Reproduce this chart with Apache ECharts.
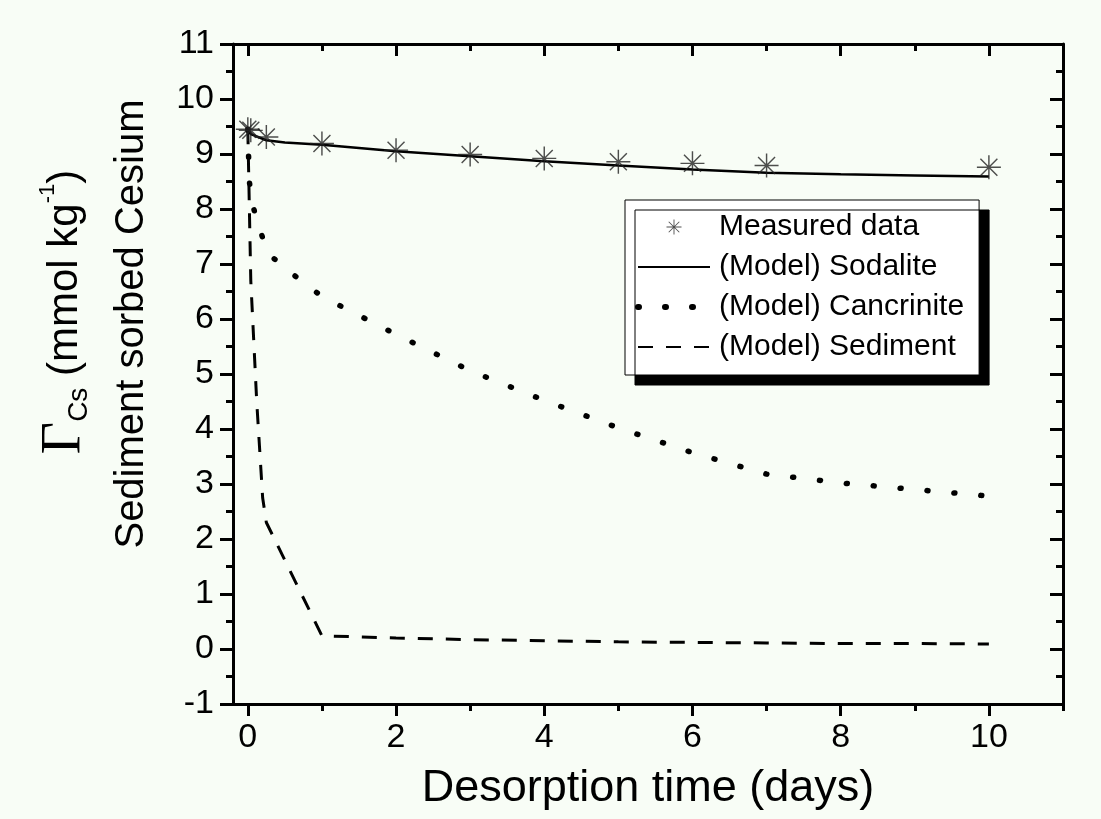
<!DOCTYPE html>
<html>
<head>
<meta charset="utf-8">
<script src="https://cdn.jsdelivr.net/npm/echarts@6/dist/echarts.min.js"></script>
<style>
  html, body { margin: 0; padding: 0; background: #f8fdf6; }
  #chart { width: 1101px; height: 819px; }
</style>
</head>
<body>
<div id="chart"></div>
<script>
// measured points (asterisks)
var measuredDays = [0, 0.04, 0.25, 1, 2, 3, 4, 5, 6, 7, 10];
var measuredValues = [9.45, 9.43, 9.31, 9.19, 9.07, 8.99, 8.92, 8.86, 8.83, 8.79, 8.76];

// model curves
var sodaliteDays = [0, 0.04, 0.25, 0.5, 1, 2, 3, 4, 5, 6, 7, 8, 9, 10];
var sodaliteValues = [9.45, 9.36, 9.25, 9.21, 9.17, 9.05, 8.96, 8.87, 8.79, 8.72, 8.66, 8.63, 8.61, 8.59];

var cancriniteDays = [0, 0.02, 0.07, 0.16, 0.28, 0.6, 1, 2, 3, 4, 5, 6, 7, 8, 9, 10];
var cancriniteValues = [9.45, 8.5, 8.05, 7.63, 7.18, 6.82, 6.41, 5.72, 5.06, 4.52, 4.02, 3.57, 3.18, 3.02, 2.9, 2.78];

var sedimentDays = [0, 0.04, 0.12, 0.2, 0.25, 1, 2, 3, 4, 5, 6, 7, 8, 9, 10];
var sedimentValues = [9.45, 6.7, 4.5, 2.75, 2.3, 0.24, 0.2, 0.17, 0.15, 0.13, 0.12, 0.11, 0.1, 0.1, 0.09];

var xMajorTicks = [0, 2, 4, 6, 8, 10];
var xMinorTicks = [1, 3, 5, 7, 9, 11];

function pairs(xs, ys) {
    return xs.map(function (x, i) { return [x, ys[i]]; });
}

// 8-arm asterisk made of thin bars (all same winding)
var asterisk = 'path://M-0.06,-1 L0.06,-1 L0.06,1 L-0.06,1 Z ' +
    'M-1,-0.06 L1,-0.06 L1,0.06 L-1,0.06 Z ' +
    'M-0.665,-0.749 L0.749,0.665 L0.665,0.749 L-0.749,-0.665 Z ' +
    'M-0.749,0.665 L0.665,-0.749 L0.749,-0.665 L-0.665,0.749 Z';

var sans = '"Liberation Sans", Arial, sans-serif';
var black = '#000';

var chart = echarts.init(document.getElementById('chart'), null, { renderer: 'canvas' });

function xAxisDef(pos, ticks, len, inside, labels) {
    return {
        type: 'value',
        position: pos,
        min: -0.2,
        max: 11,
        axisLine: { show: true, onZero: false, lineStyle: { color: black, width: 3 } },
        axisTick: { show: true, customValues: ticks, length: len, inside: inside, lineStyle: { color: black, width: 3 } },
        axisLabel: labels ? {
            show: true, customValues: ticks, color: black, fontSize: 34, fontFamily: sans, margin: 17
        } : { show: false },
        splitLine: { show: false }
    };
}

var xAxes = [
    xAxisDef('bottom', xMajorTicks, 12, false, true),
    xAxisDef('bottom', xMinorTicks, 7, false, false),
    xAxisDef('top', xMajorTicks, 12, true, false),
    xAxisDef('top', xMinorTicks, 7, true, false)
];
xAxes[0].name = 'Desorption time (days)';
xAxes[0].nameLocation = 'middle';
xAxes[0].nameGap = 62;
xAxes[0].nameTextStyle = { color: black, fontSize: 45, fontFamily: sans };

function yAxisDef(pos, inside, labels) {
    return {
        type: 'value',
        position: pos,
        min: -1,
        max: 11,
        interval: 1,
        axisLine: { show: true, onZero: false, lineStyle: { color: black, width: 3 } },
        axisTick: { show: true, length: 13, inside: inside, lineStyle: { color: black, width: 3 } },
        minorTick: { show: true, splitNumber: 2, length: 7, lineStyle: { color: black, width: 3 } },
        axisLabel: labels ? { show: true, color: black, fontSize: 34, fontFamily: sans, margin: 19 } : { show: false },
        splitLine: { show: false },
        minorSplitLine: { show: false }
    };
}

var yAxes = [yAxisDef('left', false, true), yAxisDef('right', true, false)];
yAxes[0].name = '{g|Γ}{sub|Cs}{t| (mmol kg}{sup|-1}{t|)}\n{t2|Sediment sorbed Cesium}';
yAxes[0].nameLocation = 'middle';
yAxes[0].nameRotate = 90;
yAxes[0].nameGap = 62;
yAxes[0].nameTextStyle = {
    color: black,
    align: 'center',
    padding: [0, 0, 0, 100],
    rich: {
        g: { fontFamily: '"Liberation Serif", serif', fontSize: 56, lineHeight: 56, color: black, padding: [0, 0, 0, 24] },
        sub: { fontFamily: sans, fontSize: 28, lineHeight: 26, verticalAlign: 'bottom', color: black },
        sup: { fontFamily: sans, fontSize: 22, lineHeight: 22, verticalAlign: 'top', color: black },
        t: { fontFamily: sans, fontSize: 42, lineHeight: 56, color: black },
        t2: { fontFamily: sans, fontSize: 40, lineHeight: 78, color: black }
    }
};

var lineLegendStyle = { opacity: 0 };

var option = {
    backgroundColor: '#f8fdf6',
    animation: false,
    grid: { left: 233, right: 38, top: 44, bottom: 115, containLabel: false, outerBoundsMode: 'none' },
    legend: {
        orient: 'vertical',
        left: 625,
        top: 200,
        padding: [11, 15, 12, 10],
        itemWidth: 72,
        itemHeight: 15,
        itemGap: 8,
        selectedMode: false,
        backgroundColor: '#fff',
        borderColor: black,
        borderWidth: 1,
        shadowColor: black,
        shadowBlur: 0,
        shadowOffsetX: 10,
        shadowOffsetY: 10,
        textStyle: { color: black, fontSize: 30, fontFamily: sans, lineHeight: 32, padding: [0, 0, 0, 4] },
        data: [
            { name: 'Measured data' },
            { name: '(Model) Sodalite', itemStyle: lineLegendStyle },
            { name: '(Model) Cancrinite', itemStyle: lineLegendStyle, lineStyle: { width: 6 } },
            { name: '(Model) Sediment', itemStyle: lineLegendStyle }
        ]
    },
    xAxis: xAxes,
    yAxis: yAxes,
    series: [
        {
            name: '(Model) Sodalite',
            type: 'line',
            xAxisIndex: 0, yAxisIndex: 0,
            data: pairs(sodaliteDays, sodaliteValues),
            symbol: 'none',
            lineStyle: { color: black, width: 2.5 },
            itemStyle: { color: black },
            z: 3
        },
        {
            name: '(Model) Cancrinite',
            type: 'line',
            xAxisIndex: 0, yAxisIndex: 0,
            data: pairs(cancriniteDays, cancriniteValues),
            symbol: 'none',
            lineStyle: { color: black, width: 5.5, type: [1, 26], cap: 'round' },
            itemStyle: { color: black },
            z: 3
        },
        {
            name: '(Model) Sediment',
            type: 'line',
            xAxisIndex: 0, yAxisIndex: 0,
            data: pairs(sedimentDays, sedimentValues),
            symbol: 'none',
            lineStyle: { color: black, width: 3, type: [15, 13] },
            itemStyle: { color: black },
            z: 3
        },
        {
            name: 'Measured data',
            type: 'scatter',
            xAxisIndex: 0, yAxisIndex: 0,
            data: pairs(measuredDays, measuredValues),
            symbol: asterisk,
            symbolSize: 24,
            itemStyle: { color: '#222' },
            z: 5
        }
    ]
};

chart.setOption(option);
</script>
</body>
</html>
